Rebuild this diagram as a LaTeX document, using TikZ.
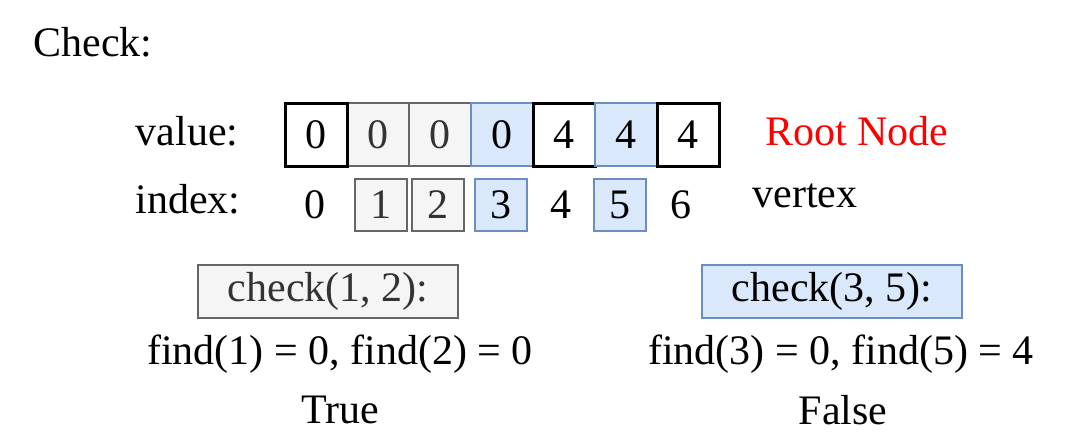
\documentclass[tikz,border=0pt]{standalone}
\usepackage{fontspec}
\setmainfont{Liberation Serif}
\definecolor{greyfill}{HTML}{F5F5F5}
\definecolor{greyline}{HTML}{666666}
\definecolor{greytext}{HTML}{333333}
\definecolor{bluefill}{HTML}{DAE8FC}
\definecolor{blueline}{HTML}{6C8EBF}
\tikzset{
  txt/.style={font=\fontsize{21}{25}\selectfont, inner sep=0pt},
  cell/.style={txt, minimum width=31pt, minimum height=31.5pt, outer sep=0pt},
  plaincell/.style={cell, draw=black, line width=1.5pt, fill=white},
  greycell/.style={cell, draw=greyline, line width=1pt, fill=greyfill, text=greytext},
  bluecell/.style={cell, draw=blueline, line width=1pt, fill=bluefill},
  idx/.style={txt, minimum width=26pt, minimum height=26pt},
  plainidx/.style={idx},
  greyidx/.style={idx, draw=greyline, line width=0.8pt, fill=greyfill, text=greytext},
  blueidx/.style={idx, draw=blueline, line width=0.8pt, fill=bluefill},
  checkbox/.style={txt, minimum width=130pt, minimum height=26.5pt}
}
\begin{document}
\begin{tikzpicture}[x=0.5pt, y=-0.5pt]
\useasboundingbox (0, 0) rectangle (1078, 446);
\node[txt, anchor=base west] (title) at (33, 56) {Check:};
%value row
\node[txt, anchor=base east] (valuelbl) at (239, 145) {value:};
\foreach \i/\v/\st in {1/0/grey, 2/0/grey, 3/0/blue, 4/4/plain, 5/4/blue, 6/4/plain, 0/0/plain}
  \node[\st cell] (v\i) at (316 + 62*\i, 134.5) {\v};
%index row
\node[txt, anchor=base east] (indexlbl) at (241, 213) {index:};
\foreach \i/\x/\st in {0/315/plain, 1/381/grey, 2/438/grey, 3/501/blue, 4/561/plain, 5/620/blue, 6/681/plain}
  \node[\st idx] (i\i) at (\x, 205) {\i};
\node[txt, anchor=base west, text=red] (root) at (765, 145) {Root Node};
\node[txt, anchor=base west] (vertex) at (752, 207) {vertex};
%check(1, 2)
\node[checkbox, draw=greyline, line width=0.8pt, fill=greyfill, text=greytext] (chkA) at (328, 291.5) {check(1, 2):};
\node[txt] (findA) at (340, 354) {find(1) = 0, find(2) = 0};
\node[txt] (resA) at (340, 410) {True};
%check(3, 5)
\node[checkbox, draw=blueline, line width=0.8pt, fill=bluefill] (chkB) at (832, 291.5) {check(3, 5):};
\node[txt] (findB) at (841, 354) {find(3) = 0, find(5) = 4};
\node[txt] (resB) at (843, 410) {False};
\end{tikzpicture}
\end{document}
